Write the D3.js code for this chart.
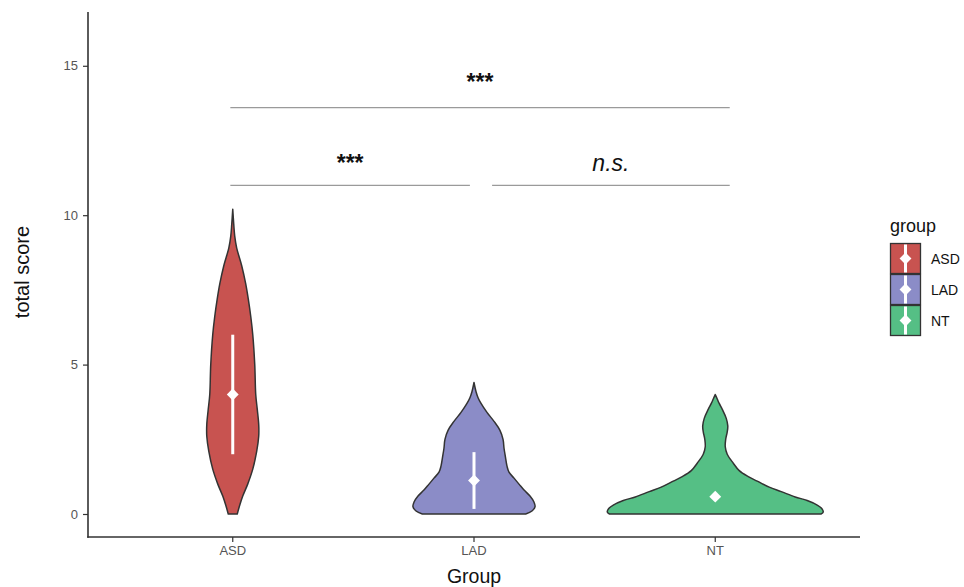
<!DOCTYPE html>
<html>
<head>
<meta charset="utf-8">
<script src="https://cdn.jsdelivr.net/npm/d3@7"></script>
<style>
  html, body { margin: 0; padding: 0; background: #fff; }
  svg { display: block; font-family: "Liberation Sans", Arial, Helvetica, sans-serif; }
</style>
</head>
<body>
<svg id="chart" width="964" height="587"></svg>
<script>
// Groups and their fill colours
const groups = ["ASD", "LAD", "NT"];
const groupColors = ["#c85350", "#8b8cc7", "#55bf85"];

// Kernel density profiles: [total score, relative density]
const asdDensity = [
  [0, 0.041], [0.3, 0.064], [0.6, 0.091], [1.0, 0.136], [1.5, 0.182], [2.1, 0.218],
  [2.6, 0.236], [3.0, 0.236], [3.5, 0.223], [4.0, 0.209], [5.0, 0.2], [6.0, 0.182],
  [6.6, 0.164], [7.2, 0.141], [7.7, 0.118], [8.3, 0.082], [8.9, 0.036], [9.3, 0.018],
  [9.7, 0.009], [10.2, 0]
];
const ladDensity = [
  [0, 0.47], [0.1, 0.527], [0.25, 0.555], [0.4, 0.545], [0.6, 0.509], [0.8, 0.455],
  [1.0, 0.409], [1.2, 0.364], [1.4, 0.318], [1.6, 0.3], [1.9, 0.286], [2.2, 0.273],
  [2.5, 0.264], [2.8, 0.236], [3.1, 0.182], [3.4, 0.118], [3.7, 0.064], [3.9, 0.036],
  [4.1, 0.018], [4.4, 0]
];
const ntDensity = [
  [0, 0.964], [0.07, 0.982], [0.2, 0.964], [0.3, 0.927], [0.45, 0.836], [0.57, 0.727],
  [0.75, 0.6], [0.9, 0.491], [1.1, 0.382], [1.25, 0.3], [1.45, 0.218], [1.7, 0.164],
  [2.0, 0.109], [2.25, 0.091], [2.5, 0.095], [2.75, 0.109], [2.95, 0.114], [3.2, 0.1],
  [3.5, 0.064], [3.7, 0.036], [3.85, 0.018], [4.0, 0]
];
const densities = [asdDensity, ladDensity, ntDensity];

// Group means and standard deviations (NT interval not drawn)
const groupMeans = [4.0, 1.12, 0.58];
const groupSDs = [2.0, 0.95, null];

// Pairwise comparisons: bracket span in group units, bracket height, label and its baseline
const compFrom = [0.99, 2.075, 0.99];
const compTo = [1.983, 3.06, 3.06];
const compHeight = [11.0, 11.0, 13.6];
const compLabels = ["***", "n.s.", "***"];
const compLabelAt = [11.47, 11.47, 14.18];

const yTicks = [0, 5, 10, 15];

const svg = d3.select("#chart");
const margin = { left: 88, right: 104, top: 12, bottom: 50 };
const W = 964, H = 587;
const plotRight = W - margin.right;
const plotBottom = H - margin.bottom;

const x = d3.scaleBand().domain(groups).range([margin.left, plotRight]).paddingOuter(0.1).paddingInner(0).align(0.5);
const xCenter = g => x(g) + x.bandwidth() / 2;
// Continuous group position (1-based) to pixels
const xPos = d3.scaleLinear().domain([1, 3]).range([xCenter("ASD"), xCenter("NT")]);
const y = d3.scaleLinear().domain([-0.77, 16.8]).range([plotBottom, margin.top]);
const w = d3.scaleLinear().domain([0, 1]).range([0, 110]);

// Violins
groups.forEach((g, i) => {
  const cx = xCenter(g);
  const area = d3.area()
    .y(d => y(d[0]))
    .x0(d => cx - w(d[1]))
    .x1(d => cx + w(d[1]))
    .curve(d3.curveCatmullRom.alpha(0.5));
  svg.append("path")
    .datum(densities[i])
    .attr("d", area)
    .attr("fill", groupColors[i])
    .attr("stroke", "#333")
    .attr("stroke-width", 1.5)
    .attr("stroke-linejoin", "round");
});

// Mean ± SD markers
const diamond = d3.symbol().type(d3.symbolDiamond2).size(90);
groups.forEach((g, i) => {
  const cx = xCenter(g);
  if (groupSDs[i] !== null) {
    svg.append("line")
      .attr("x1", cx).attr("x2", cx)
      .attr("y1", y(groupMeans[i] - groupSDs[i]))
      .attr("y2", y(groupMeans[i] + groupSDs[i]))
      .attr("stroke", "#fff").attr("stroke-width", 3);
  }
  svg.append("path")
    .attr("d", diamond)
    .attr("transform", `translate(${cx},${y(groupMeans[i])})`)
    .attr("fill", "#fff");
});

// Significance brackets
compLabels.forEach((lab, i) => {
  const x1 = xPos(compFrom[i]), x2 = xPos(compTo[i]);
  svg.append("line")
    .attr("x1", x1).attr("x2", x2)
    .attr("y1", y(compHeight[i])).attr("y2", y(compHeight[i]))
    .attr("stroke", "#9a9a9a").attr("stroke-width", 1.2);
  const isNs = lab === "n.s.";
  svg.append("text")
    .attr("x", (x1 + x2) / 2)
    .attr("y", y(compLabelAt[i]))
    .attr("text-anchor", "middle")
    .attr("font-size", isNs ? 23 : 23)
    .attr("font-style", isNs ? "italic" : "normal")
    .attr("font-weight", isNs ? "normal" : "bold")
    .attr("fill", "#111")
    .text(lab);
});

// Axes
const yAxis = d3.axisLeft(y).tickValues(yTicks).tickSize(5).tickPadding(5);
const gy = svg.append("g").attr("transform", `translate(${margin.left},0)`).call(yAxis);
gy.select(".domain").remove();
gy.selectAll(".tick line").attr("stroke", "#333").attr("stroke-width", 1.2);
gy.selectAll(".tick text").attr("fill", "#555").attr("font-size", 13).attr("font-family", "Liberation Sans, Arial, sans-serif");

const xAxis = d3.axisBottom(x).tickSize(5).tickPadding(4);
const gx = svg.append("g").attr("transform", `translate(0,${plotBottom})`).call(xAxis);
gx.select(".domain").remove();
gx.selectAll(".tick line").attr("stroke", "#333").attr("stroke-width", 1.2);
gx.selectAll(".tick text").attr("fill", "#555").attr("font-size", 13).attr("font-family", "Liberation Sans, Arial, sans-serif");

// Axis lines
svg.append("line").attr("x1", margin.left).attr("x2", margin.left)
  .attr("y1", margin.top).attr("y2", plotBottom + 0.75)
  .attr("stroke", "#333").attr("stroke-width", 1.6);
svg.append("line").attr("x1", margin.left - 0.8).attr("x2", plotRight)
  .attr("y1", plotBottom).attr("y2", plotBottom)
  .attr("stroke", "#333").attr("stroke-width", 1.6);

// Axis titles
svg.append("text")
  .attr("transform", `translate(29,272) rotate(-90)`)
  .attr("text-anchor", "middle")
  .attr("font-size", 20)
  .attr("fill", "#111")
  .text("total score");
svg.append("text")
  .attr("x", (margin.left + plotRight) / 2)
  .attr("y", 583)
  .attr("text-anchor", "middle")
  .attr("font-size", 19.5)
  .attr("fill", "#111")
  .text("Group");

// Legend
const legend = svg.append("g").attr("transform", "translate(890,0)");
legend.append("text").attr("x", 0).attr("y", 232).attr("font-size", 18).attr("fill", "#111").text("group");
const keySize = 30, keyStep = 31;
groups.forEach((g, i) => {
  const top = 243 + i * keyStep;
  const k = legend.append("g").attr("transform", `translate(0,${top})`);
  k.append("rect").attr("x", 0.5).attr("y", 0.5).attr("width", keySize).attr("height", keySize)
    .attr("fill", groupColors[i]).attr("stroke", "#333").attr("stroke-width", 1.3);
  k.append("line").attr("x1", keySize / 2 + 0.5).attr("x2", keySize / 2 + 0.5)
    .attr("y1", 1.5).attr("y2", keySize - 0.5)
    .attr("stroke", "#fff").attr("stroke-width", 3);
  k.append("path").attr("d", diamond)
    .attr("transform", `translate(${keySize / 2 + 0.5},${keySize / 2 + 0.5})`)
    .attr("fill", "#fff");
  k.append("text").attr("x", keySize + 11).attr("y", keySize / 2 + 6)
    .attr("font-size", 14).attr("fill", "#111").text(g);
});
</script>
</body>
</html>
